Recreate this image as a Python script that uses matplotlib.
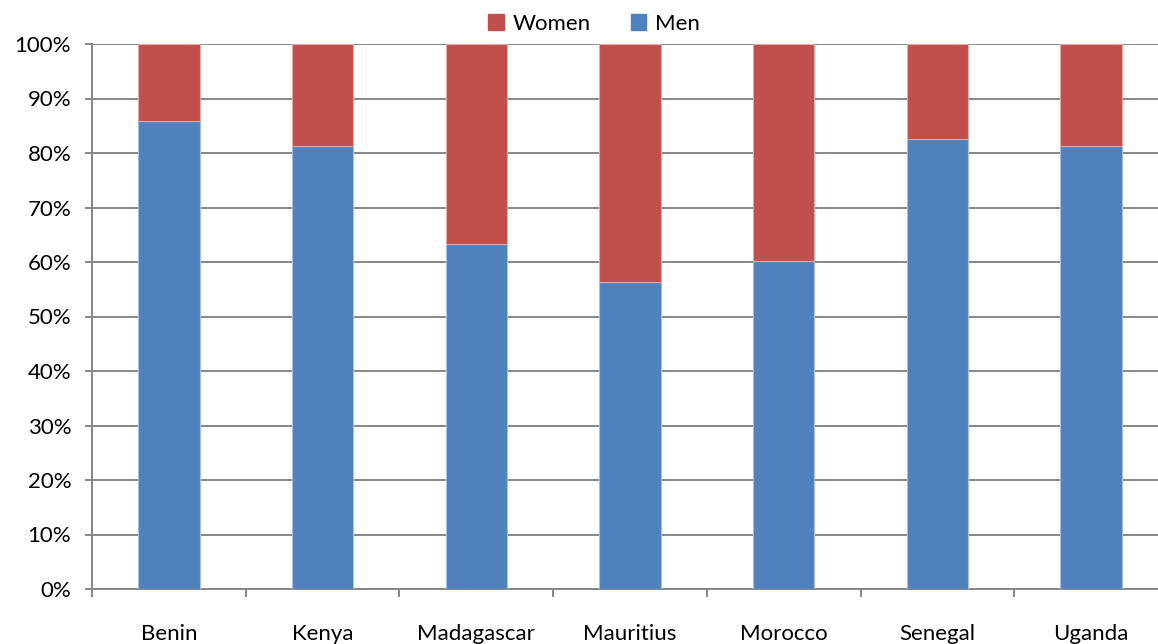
import matplotlib.pyplot as plt
import numpy as np
from matplotlib.patches import Patch

# Share of men and women by country (percent)
countries = ["Benin", "Kenya", "Madagascar", "Mauritius", "Morocco", "Senegal", "Uganda"]
men = [85.8, 81.2, 63.3, 56.3, 60.1, 82.6, 81.2]
women = [100 - m for m in men]

men_color = "#4F81BD"
women_color = "#C0504D"
grid_color = "#868686"

plt.rcParams["font.family"] = ["Lato", "DejaVu Sans"]

fig = plt.figure(figsize=(11.58, 6.44), dpi=100)
ax = fig.add_axes([92 / 1158, 55 / 644, 1076 / 1158, 545 / 644])

x = np.arange(len(countries))
ax.bar(x, men, width=0.4, color=men_color, edgecolor="#A7BFDE", linewidth=0.8, zorder=3)
ax.bar(x, women, width=0.4, bottom=men, color=women_color, edgecolor="#E0A9A8",
       linewidth=0.8, zorder=3)

ax.set_xlim(-0.5, len(countries) - 0.5)
ax.set_ylim(0, 100)

ax.set_yticks(np.arange(0, 101, 10))
ax.set_yticklabels([f"{v}%" for v in range(0, 101, 10)], fontsize=16)
ax.yaxis.grid(True, color=grid_color, linewidth=1.4, zorder=0)
ax.tick_params(axis="y", length=5, width=1.4, color=grid_color, pad=10)

# category labels at centres, tick marks at the boundaries
ax.set_xticks(x)
ax.set_xticklabels(countries, fontsize=16)
ax.tick_params(axis="x", which="major", length=0, pad=25)
ax.set_xticks(np.arange(-0.5, len(countries), 1), minor=True)
ax.tick_params(axis="x", which="minor", length=6, width=1.4, color=grid_color)

for side in ["top", "right"]:
    ax.spines[side].set_visible(False)
for side in ["left", "bottom"]:
    ax.spines[side].set_color(grid_color)
    ax.spines[side].set_linewidth(1.4)

handles = [Patch(color=women_color, label="Women"), Patch(color=men_color, label="Men")]
fig.legend(handles=handles, loc="center", bbox_to_anchor=(0.513, 1 - 24 / 644), ncol=2,
           frameon=False, fontsize=16, handlelength=0.7, handleheight=0.7,
           handletextpad=0.4, columnspacing=1.8)

fig.savefig("out.png", dpi=100)
